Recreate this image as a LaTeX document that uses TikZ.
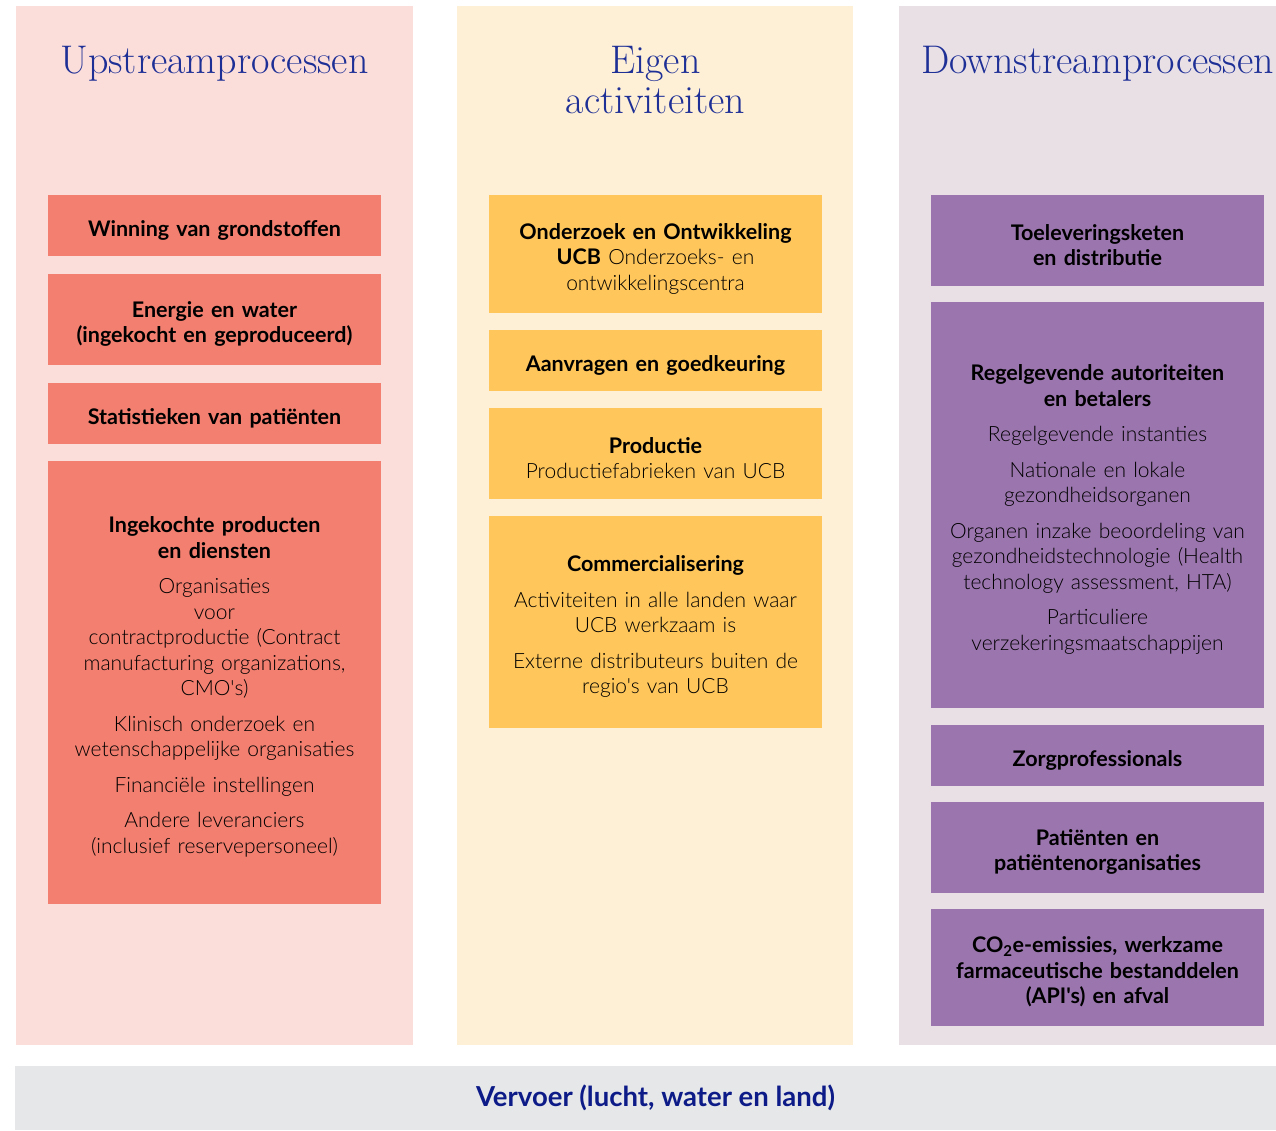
\documentclass[tikz,border=0pt]{standalone}
\usepackage{fontspec}
\newfontfamily\lato{Lato}
\newfontfamily\latolight{Lato Light}
\definecolor{upback}{HTML}{FBDEDA}
\definecolor{upfill}{HTML}{F27F70}
\definecolor{ownback}{HTML}{FEF0D6}
\definecolor{ownfill}{HTML}{FEC65B}
\definecolor{downback}{HTML}{E9E0E6}
\definecolor{downfill}{HTML}{9B75AE}
\definecolor{barback}{HTML}{E6E7E9}
\definecolor{titleblue}{HTML}{1E2F96}
\definecolor{barblue}{HTML}{0C1B87}
\newcommand{\lt}[1]{{\latolight\mdseries\fontsize{21}{25.5}\selectfont #1}}
\tikzset{
	box/.style={minimum width=333pt, text width=330pt, inner sep=0pt, align=center, font=\lato\fontsize{21.5}{25.5}\selectfont\bfseries, execute at begin node={\rule{0pt}{25pt}}},
	upbox/.style={box, fill=upfill},
	ownbox/.style={box, fill=ownfill},
	downbox/.style={box, fill=downfill},
	coltitle/.style={text=titleblue, align=center, anchor=base, font=\fontsize{40}{40}\selectfont}
}

\begin{document}
\begin{tikzpicture}[x=1pt, y=-1pt]
			%%%%% START %%%%%
			
			\useasboundingbox (0, 0) rectangle (1276, 1130);
			
			\fill[upback] (16, 6) rectangle (413, 1045);
			\fill[ownback] (457, 6) rectangle (853, 1045);
			\fill[downback] (899, 6) rectangle (1276, 1045);
			\fill[barback] (15, 1066) rectangle (1276, 1130);
			
			\node[coltitle] (upTitle) at (214.5, 73) {Upstreamprocessen};
			\node[coltitle] (ownTitle) at (655.5, 113) {Eigen\\activiteiten};
			\node[coltitle] (downTitle) at (1097.5, 73) {Downstreamprocessen};
			
			\node[upbox, minimum height=61pt] (win) at (214.5, 225.5) {Winning van grondstoffen};
			\node[upbox, minimum height=91pt] (energie) at (214.5, 319.5) {Energie en water\\(ingekocht en geproduceerd)};
			\node[upbox, minimum height=61pt] (stats) at (214.5, 413.5) {Statistieken van patiënten};
			\node[upbox, minimum height=443pt] (inkoop) at (214.5, 682.5) {Ingekochte producten\\en diensten\\[10pt]
				\lt{Organisaties\\voor\\contractproductie (Contract\\manufacturing organizations,\\CMO's)\\[10pt]
				Klinisch onderzoek en\\wetenschappelijke organisaties\\[10pt]
				Financiële instellingen\\[10pt]
				Andere leveranciers\\(inclusief reservepersoneel)}};
			
			\node[ownbox, minimum height=118pt] (onderzoek) at (655.5, 254) {Onderzoek en Ontwikkeling\\UCB \lt{Onderzoeks- en\\ontwikkelingscentra}};
			\node[ownbox, minimum height=61pt] (aanvragen) at (655.5, 360.5) {Aanvragen en goedkeuring};
			\node[ownbox, minimum height=91pt] (productie) at (655.5, 453.5) {Productie\\\lt{Productiefabrieken van UCB}};
			\node[ownbox, minimum height=212pt] (commerc) at (655.5, 622) {Commercialisering\\[10pt]
				\lt{Activiteiten in alle landen waar\\UCB werkzaam is\\[10pt]
				Externe distributeurs buiten de\\regio's van UCB}};
			
			\node[downbox, minimum height=91pt] (toelev) at (1097.5, 240.5) {Toeleveringsketen\\en distributie};
			\node[downbox, minimum height=406pt] (regel) at (1097.5, 505) {Regelgevende autoriteiten\\en betalers\\[10pt]
				\lt{Regelgevende instanties\\[10pt]
				Nationale en lokale\\gezondheidsorganen\\[10pt]
				Organen inzake beoordeling van\\gezondheidstechnologie (Health\\technology assessment, HTA)\\[10pt]
				Particuliere\\verzekeringsmaatschappijen}};
			\node[downbox, minimum height=61pt] (zorg) at (1097.5, 755.5) {Zorgprofessionals};
			\node[downbox, minimum height=91pt] (patienten) at (1097.5, 847.5) {Patiënten en\\patiëntenorganisaties};
			\node[downbox, minimum height=117pt] (emissies) at (1097.5, 967.5) {CO\textsubscript{2}e-emissies, werkzame\\farmaceutische bestanddelen\\(API's) en afval};
			
			\node[font=\lato\fontsize{27.5}{30}\selectfont\bfseries, text=barblue] (vervoer) at (655.5, 1098) {Vervoer (lucht, water en land)};
			
			%%%%% END %%%%%
		\end{tikzpicture}
\end{document}
